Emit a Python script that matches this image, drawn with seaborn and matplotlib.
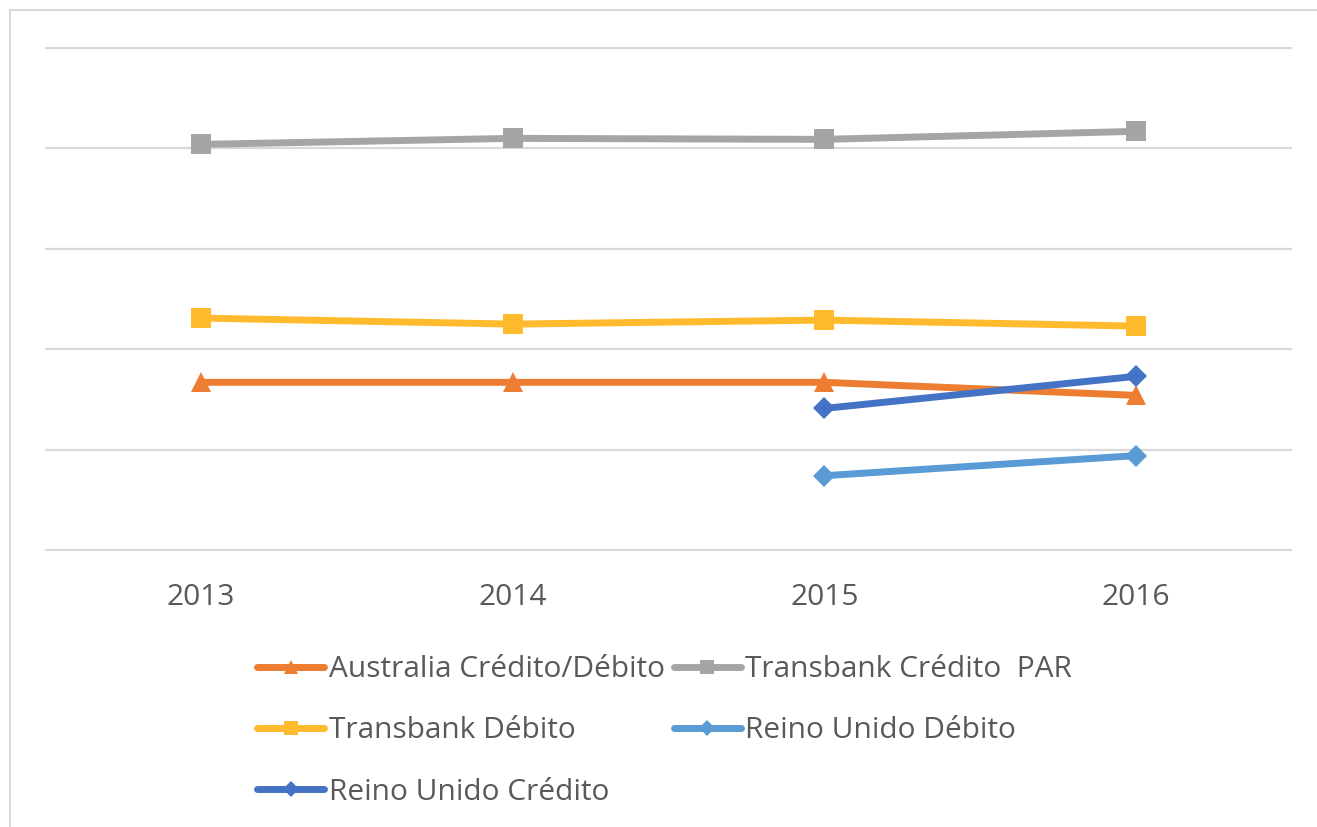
import matplotlib
matplotlib.use("Agg")
import matplotlib.pyplot as plt
from matplotlib.lines import Line2D
import pandas as pd
import seaborn as sns

# values (y scale has no labels, gridlines every 1 unit)
years = ["2013", "2014", "2015", "2016"]
australia = [1.67, 1.67, 1.67, 1.54]
transbank_credito = [4.04, 4.10, 4.09, 4.17]
transbank_debito = [2.31, 2.25, 2.29, 2.23]
ru_debito_years = ["2015", "2016"]
ru_debito = [0.74, 0.94]
ru_credito_years = ["2015", "2016"]
ru_credito = [1.41, 1.73]

names = ["Australia Crédito/Débito", "Transbank Crédito  PAR", "Transbank Débito",
         "Reino Unido Débito", "Reino Unido Crédito"]
colors = ["#ED7D31", "#A5A5A5", "#FFBA2E", "#5B9BD5", "#4472C4"]
markers = ["^", "s", "s", "D", "D"]

rows = []
for name, xs, ys in zip(names,
                        [years, years, years, ru_debito_years, ru_credito_years],
                        [australia, transbank_credito, transbank_debito, ru_debito, ru_credito]):
    for x, y in zip(xs, ys):
        rows.append({"year": x, "valor": y, "serie": name})
df = pd.DataFrame(rows)

sns.set_style("white")
plt.rcParams["font.family"] = ["Open Sans", "DejaVu Sans"]

fig = plt.figure(figsize=(13.17, 8.27), dpi=100)
ax = fig.add_axes([45 / 1317, 1 - 551 / 827, (1292 - 45) / 1317, (551 - 47) / 827])

sns.lineplot(data=df, x="year", y="valor", hue="serie", style="serie",
             palette=dict(zip(names, colors)), markers=dict(zip(names, markers)),
             dashes=False, linewidth=5, markersize=14, markeredgewidth=0,
             ax=ax, legend=True)
# diamonds a bit smaller
for line in ax.lines:
    if line.get_marker() == "D":
        line.set_markersize(11.5)

ax.set_xlim(-0.5, 3.5)
ax.set_ylim(-0.01, 5.01)
ax.set_yticks(range(6))
ax.set_yticklabels([])
ax.yaxis.grid(True, color="#D9D9D9", linewidth=1.6)
ax.set_axisbelow(True)
for s in ax.spines.values():
    s.set_visible(False)
ax.tick_params(axis="x", length=0, pad=23, labelsize=21.5, labelcolor="#595959")
ax.tick_params(axis="y", length=0)
ax.set_xlabel("")
ax.set_ylabel("")

handles, labels = ax.get_legend_handles_labels()
hmap = dict(zip(labels, handles))
order = ["Australia Crédito/Débito", "Transbank Débito", "Reino Unido Crédito",
         "Transbank Crédito  PAR", "Reino Unido Débito"]
leg_handles = []
for n in order:
    h = hmap[n]
    h2 = Line2D([], [], color=h.get_color(), marker=h.get_marker(), linewidth=5,
                markersize=10 if h.get_marker() != "D" else 8, markeredgewidth=0,
                solid_capstyle="round")
    leg_handles.append(h2)
ax.legend(leg_handles, order, ncol=2, frameon=False, fontsize=21.5,
          loc="upper left", bbox_to_anchor=(257 / 1317, 1 - 655 / 827),
          bbox_transform=fig.transFigure, handlelength=2.25, handletextpad=0.15,
          columnspacing=0.3, labelspacing=1.08, borderpad=0, borderaxespad=0,
          labelcolor="#595959")

# outer chart frame (left and top edges visible)
fig.add_artist(Line2D([10 / 1317, 10 / 1317], [0, 1 - 10 / 827], transform=fig.transFigure,
                      color="#D9D9D9", linewidth=1.5))
fig.add_artist(Line2D([10 / 1317, 1], [1 - 10 / 827, 1 - 10 / 827], transform=fig.transFigure,
                      color="#D9D9D9", linewidth=1.5))

fig.savefig("out.png", dpi=100)
